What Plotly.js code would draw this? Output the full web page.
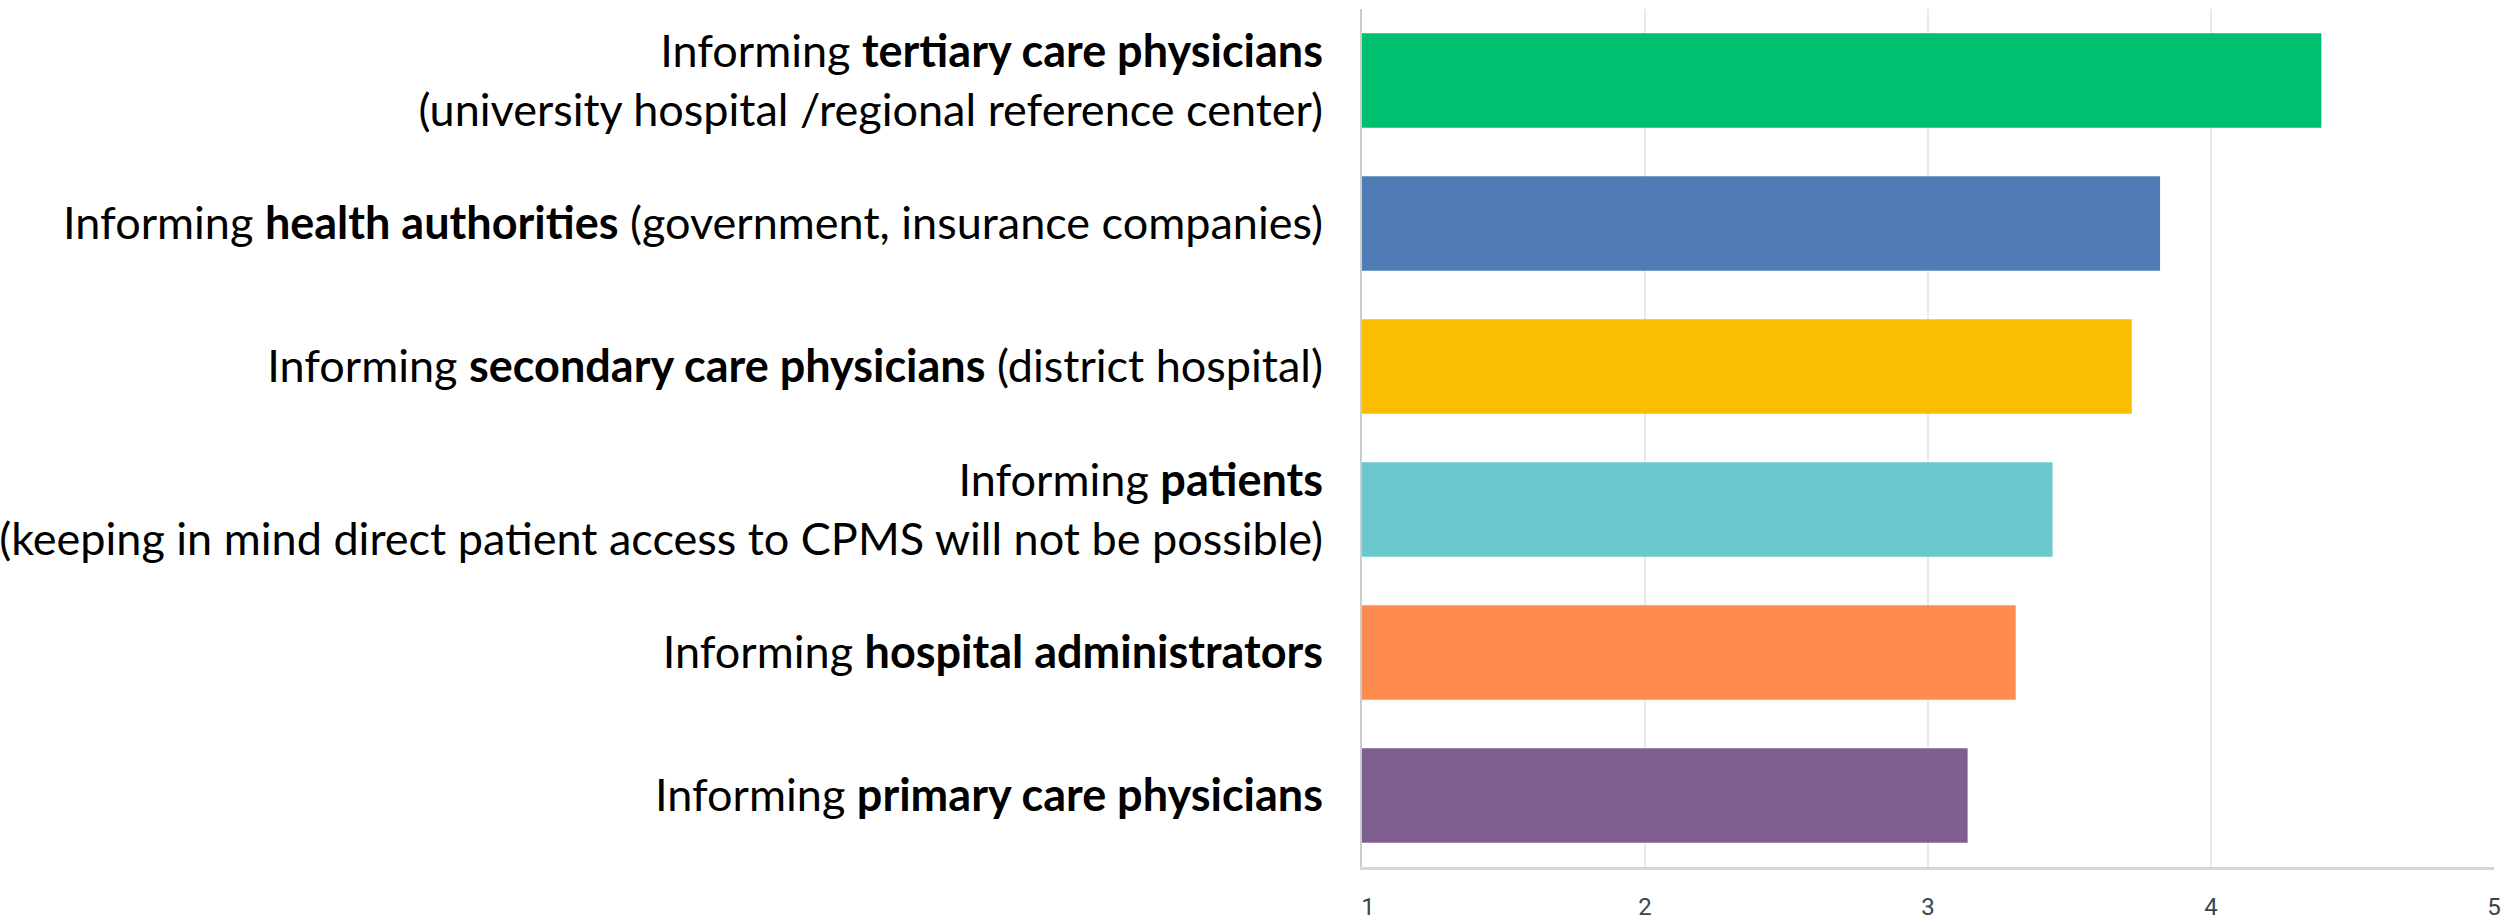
<!DOCTYPE html>
<html>
<head>
<meta charset="utf-8">
<script src="https://cdn.plot.ly/plotly-3.0.1.min.js"></script>
<style>
html,body{margin:0;padding:0;background:#fff;}
#chart{width:2501px;height:921px;}
</style>
</head>
<body>
<div id="chart"></div>
<script>
// Categories, top to bottom
const categories = ["tertiary", "health", "secondary", "patients", "admin", "primary"];
const labelBold = ["tertiary care physicians", "health authorities", "secondary care physicians", "patients", "hospital administrators", "primary care physicians"];
const labelAfter = ["<br>(university hospital /regional reference center)", " (government, insurance companies)", " (district hospital)", "<br>(keeping in mind direct patient access to CPMS will not be possible)", "", ""];
const values = [4.39, 3.82, 3.72, 3.44, 3.31, 3.14];
const barColors = ["#00BF6F", "#507CB6", "#F9BE00", "#6BC8CD", "#FF8B4F", "#7E5F8F"];
const xTicks = [1, 2, 3, 4, 5];

const tickText = categories.map((c, i) => "Informing <b>" + labelBold[i] + "</b>" + labelAfter[i]);
// first x label nudged right so it starts at the axis line
const NB = "\u00a0\u00a0";
const xTickText = xTicks.map((v, i) => i === 0 ? NB + v : String(v));

const trace = {
  type: "bar",
  orientation: "h",
  y: categories,
  x: values,
  width: 0.66,
  marker: { color: barColors, line: { width: 0 } },
  hoverinfo: "x"
};

const layout = {
  width: 2501,
  height: 921,
  margin: { l: 1362, r: 7, t: 9, b: 54, pad: 0 },
  paper_bgcolor: "#ffffff",
  plot_bgcolor: "#ffffff",
  showlegend: false,
  xaxis: {
    range: [1, 5],
    tickvals: xTicks,
    ticktext: xTickText,
    showgrid: true,
    gridcolor: "#e9e9e9",
    gridwidth: 1.5,
    zeroline: false,
    showline: true,
    linecolor: "#d6d6d6",
    linewidth: 3,
    ticks: "",
    ticklabelstandoff: 16,
    ticklabeloverflow: "allow",
    tickfont: { family: "Roboto, 'Liberation Sans Narrow', sans-serif", size: 24, color: "#3a444f" },
    fixedrange: true
  },
  yaxis: {
    type: "category",
    tickvals: categories,
    ticktext: tickText,
    autorange: "reversed",
    showgrid: false,
    zeroline: false,
    showline: true,
    linecolor: "#cccccc",
    linewidth: 2,
    ticks: "",
    ticklabelstandoff: 28,
    tickfont: { family: "Lato, 'Open Sans', sans-serif", size: 45, color: "#000000" },
    fixedrange: true
  }
};

Plotly.newPlot("chart", [trace], layout, { displayModeBar: false, staticPlot: true });
</script>
</body>
</html>
